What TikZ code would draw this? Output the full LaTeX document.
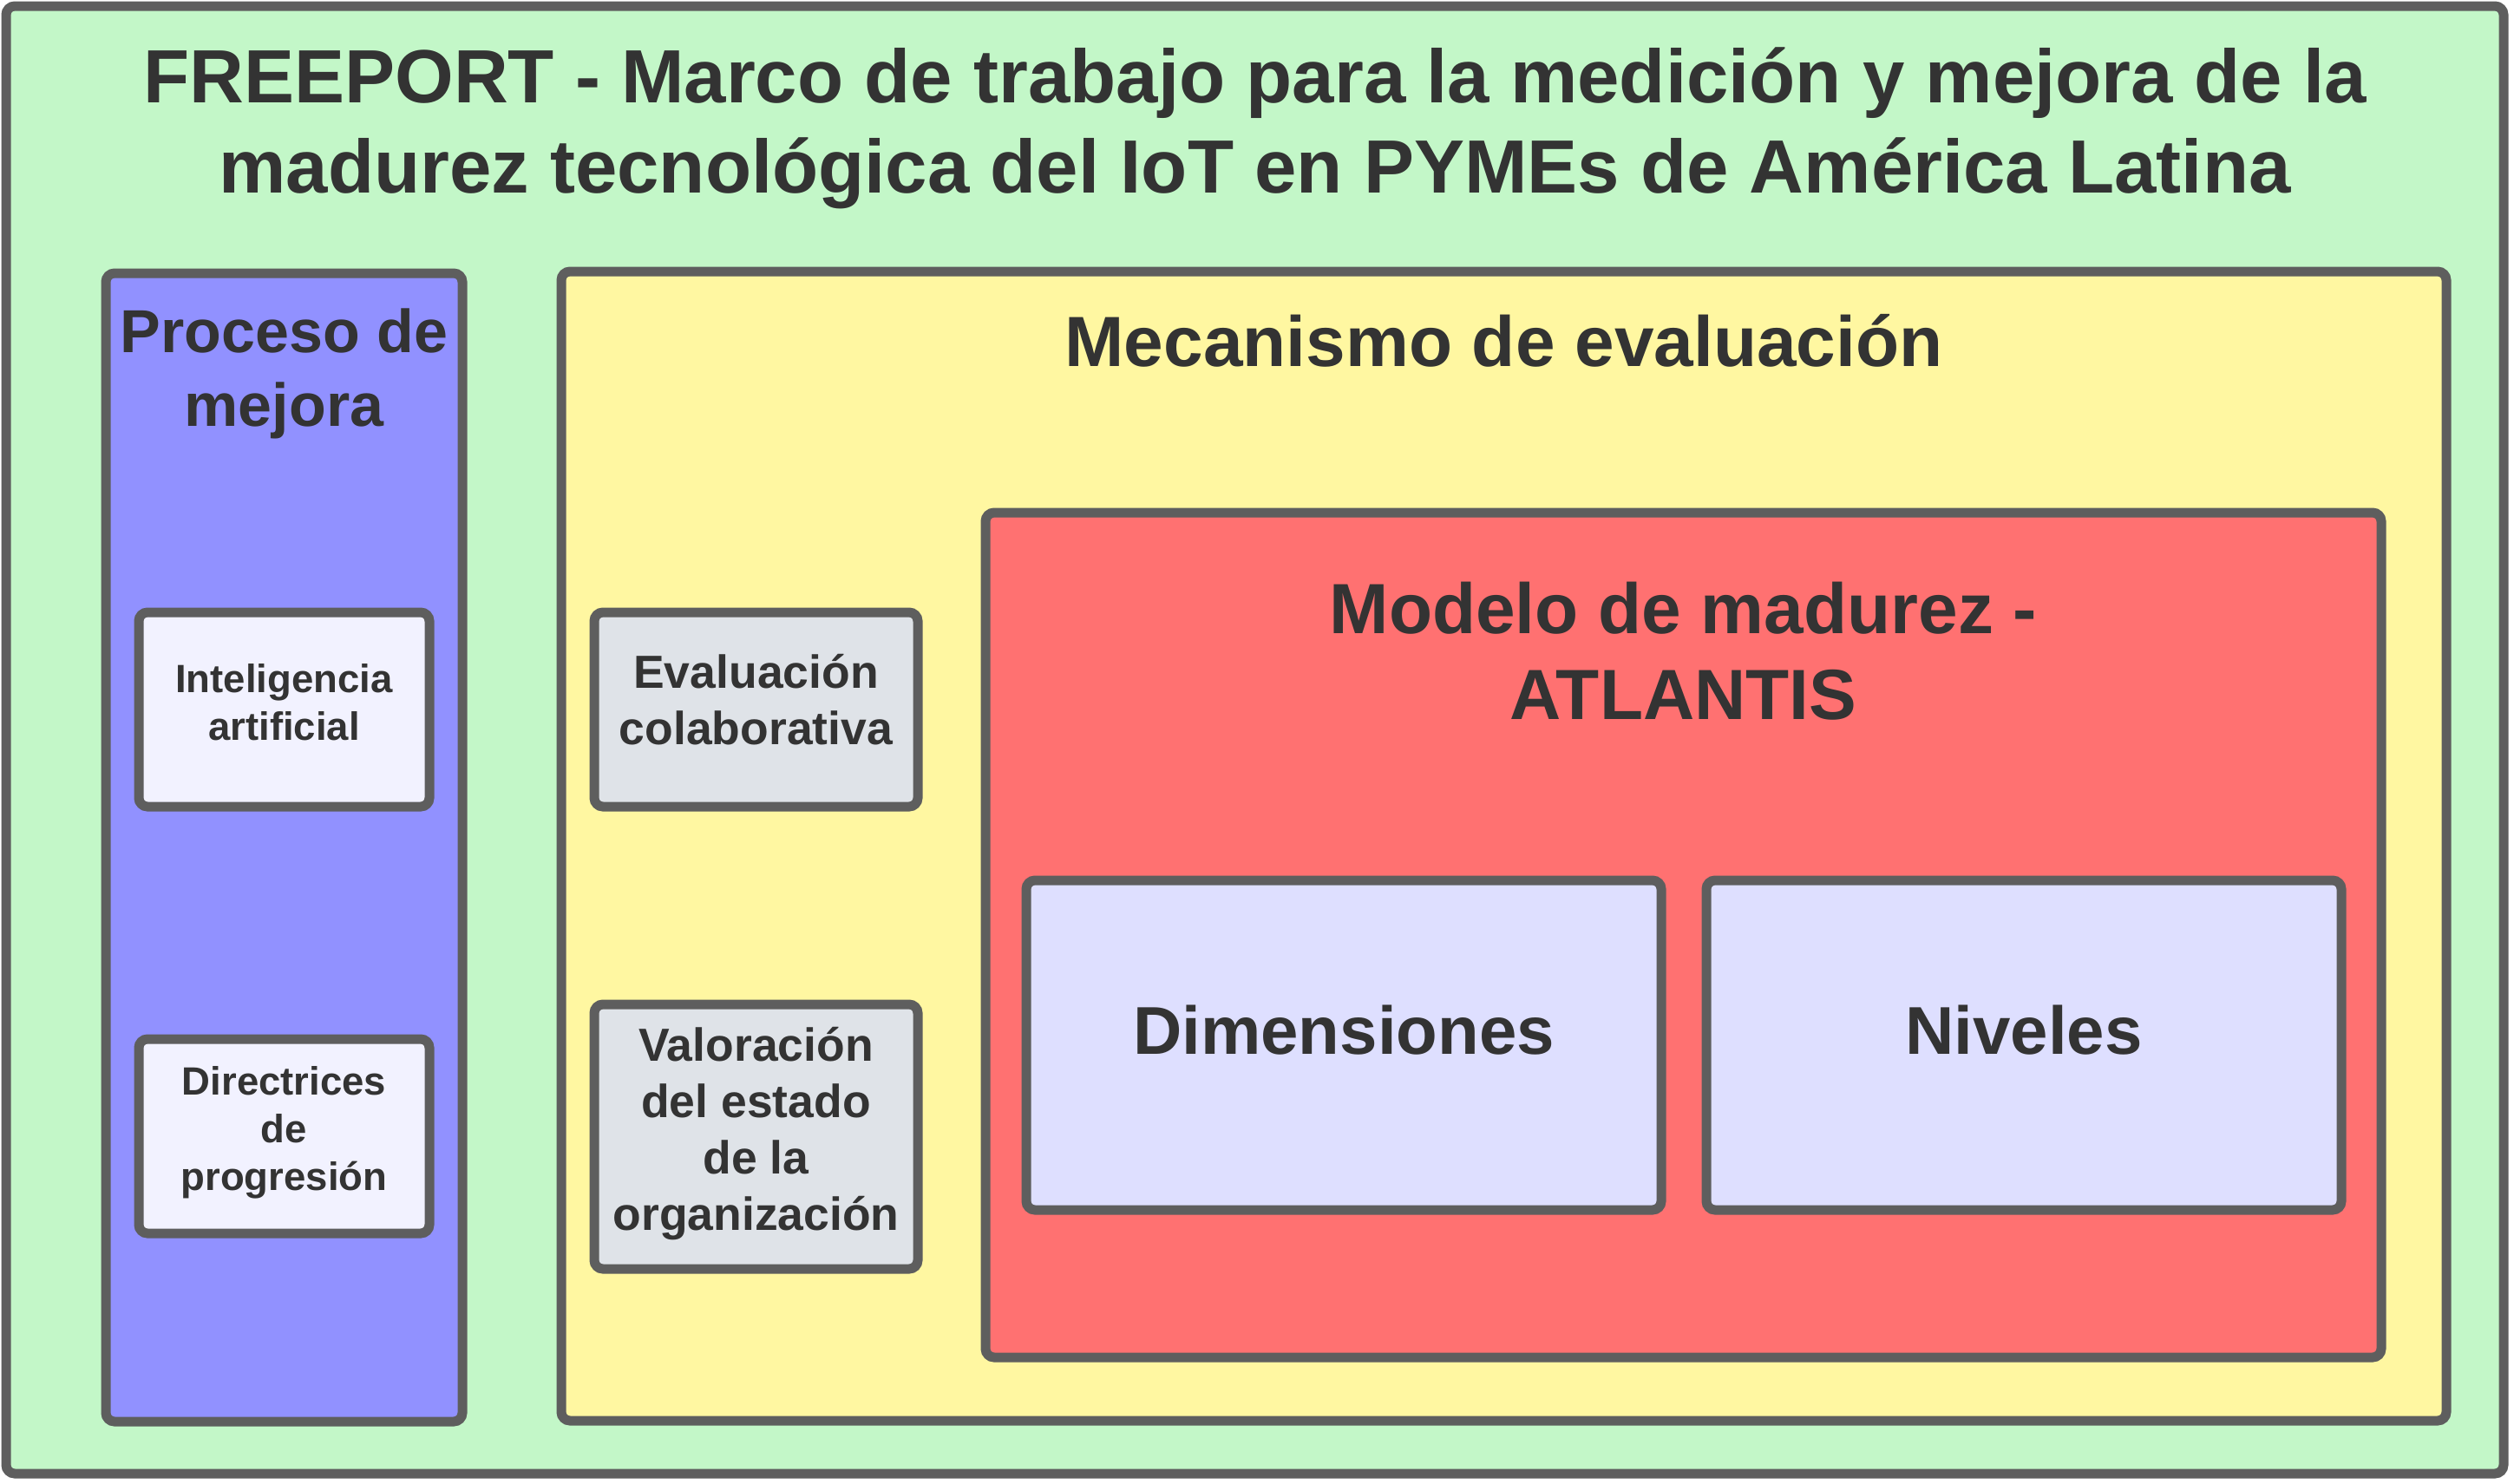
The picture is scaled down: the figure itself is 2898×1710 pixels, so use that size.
\documentclass[tikz,border=0pt]{standalone}
\usepackage{fontspec}
\setmainfont{Liberation Sans}
\usetikzlibrary{positioning}

\definecolor{bggreen}{HTML}{C3F7C8}
\definecolor{procblue}{HTML}{9191FF}
\definecolor{evalyellow}{HTML}{FFF7A1}
\definecolor{modelred}{HTML}{FF7171}
\definecolor{toolwhite}{HTML}{F2F2FF}
\definecolor{stepgray}{HTML}{DFE3E8}
\definecolor{partlilac}{HTML}{DEDFFF}
\definecolor{edgegray}{HTML}{5E5E5E}
\definecolor{inkgray}{HTML}{333333}

\newcommand{\boxstrut}{\rule{0pt}{1em}}

\begin{document}
\begin{tikzpicture}[
  x=0.5pt, y=-0.5pt,
  panel/.style={draw=edgegray, line width=5.5pt, rounded corners=5pt,
    inner sep=0pt, outer sep=0pt},
  boxtext/.style={text=inkgray, align=center, inner sep=0pt, outer sep=0pt},
  title-text/.style={boxtext, font=\bfseries\fontsize{43.5pt}{52pt}\selectfont},
  head-text/.style={boxtext, font=\bfseries\fontsize{41pt}{49.5pt}\selectfont},
  side-text/.style={boxtext, font=\bfseries\fontsize{35pt}{42.5pt}\selectfont},
  part-text/.style={boxtext, font=\bfseries\fontsize{39pt}{47pt}\selectfont},
  step-text/.style={boxtext, font=\bfseries\fontsize{26.75pt}{32.5pt}\selectfont},
  tool-text/.style={boxtext, font=\bfseries\fontsize{22.75pt}{27.5pt}\selectfont},
  ]
  \useasboundingbox (0,0) rectangle (2898,1710);

  % containers
  \node [panel, fill=bggreen, minimum width=1439.5pt, minimum height=846pt]
    (outer) at (1446.5,853) {};
  \node [panel, fill=procblue, minimum width=205.5pt, minimum height=662pt]
    (proc) at (327.5,977) {};
  \node [panel, fill=evalyellow, minimum width=1086.5pt, minimum height=662.5pt]
    (eval) at (1733.5,975.5) {};
  \node [panel, fill=modelred, minimum width=804.5pt, minimum height=487pt]
    (model) at (1940.5,1078) {};

  % inner boxes
  \node [panel, fill=toolwhite, minimum width=167.5pt, minimum height=112pt]
    (ai) at (327.5,818) {};
  \node [panel, fill=toolwhite, minimum width=167.5pt, minimum height=112pt]
    (guide) at (327.5,1310) {};
  \node [panel, fill=stepgray, minimum width=186.5pt, minimum height=112pt]
    (collab) at (871.5,818) {};
  \node [panel, fill=stepgray, minimum width=186.5pt, minimum height=152.5pt]
    (state) at (871.5,1310.5) {};
  \node [panel, fill=partlilac, minimum width=366pt, minimum height=190pt]
    (dims) at (1549,1205) {};
  \node [panel, fill=partlilac, minimum width=366pt, minimum height=190pt]
    (levels) at (2333,1205) {};

  % texts
  \node [title-text, below=12pt of outer.north] (outer-title)
    {\boxstrut FREEPORT - Marco de trabajo para la medición y mejora de la\\
     madurez tecnológica del IoT en PYMEs de América Latina};
  \node [side-text, below=10.5pt of proc.north] (proc-title)
    {\boxstrut Proceso de\\ mejora};
  \node [head-text, below=13.5pt of eval.north] (eval-title)
    {\boxstrut Mecanismo de evaluación};
  \node [head-text, below=28.5pt of model.north] (model-title)
    {\boxstrut Modelo de madurez -\\ ATLANTIS};
  \node [tool-text, below=23.25pt of ai.north] (ai-text)
    {\boxstrut Inteligencia\\ artificial};
  \node [tool-text, below=9.25pt of guide.north] (guide-text)
    {\boxstrut Directrices\\ de\\ progresión};
  \node [step-text, below=16.75pt of collab.north] (collab-text)
    {\boxstrut Evaluación\\ colaborativa};
  \node [step-text, below=5.75pt of state.north] (state-text)
    {\boxstrut Valoración\\ del estado\\ de la\\ organización};
  \node [part-text, below=61pt of dims.north] (dims-text)
    {\boxstrut Dimensiones};
  \node [part-text, below=61pt of levels.north] (levels-text)
    {\boxstrut Niveles};
\end{tikzpicture}
\end{document}
